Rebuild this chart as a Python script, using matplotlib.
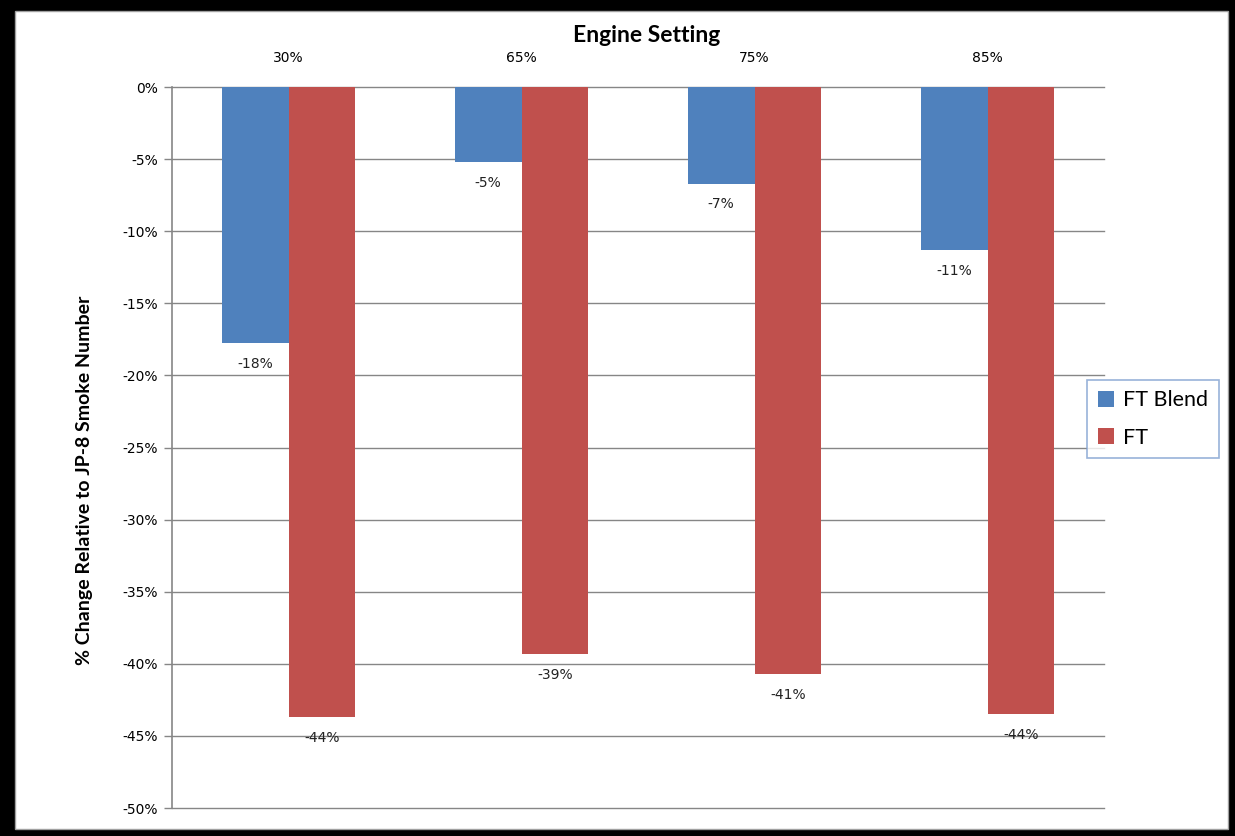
import matplotlib
matplotlib.use("Agg")
import matplotlib.pyplot as plt
from matplotlib.patches import Rectangle
import numpy as np

# Engine settings and % change in smoke number relative to JP-8
settings = ["30%", "65%", "75%", "85%"]
ft_blend = [-17.75, -5.2, -6.7, -11.3]
ft = [-43.7, -39.3, -40.7, -43.5]
y_ticks = [0, -5, -10, -15, -20, -25, -30, -35, -40, -45, -50]

BLUE = "#4F81BD"
RED = "#C0504D"
GRID = "#868686"

W, H = 1235, 836
fig = plt.figure(figsize=(W / 100, H / 100), dpi=100)
fig.patch.set_facecolor("black")
# white chart area with a thin grey inner border
fig.patches.append(Rectangle((15 / W, 1 - 829 / H), (1228 - 15) / W, (829 - 11) / H,
                             transform=fig.transFigure, facecolor="white",
                             edgecolor="#A0A0A0", linewidth=1.0, zorder=-5))

ax = fig.add_axes([172 / W, 1 - 808 / H, (1104 - 172) / W, (808 - 87) / H])
ax.set_facecolor("none")

x = np.arange(len(settings))
bw = 0.286
b1 = ax.bar(x - bw / 2, ft_blend, bw, color=BLUE, label="FT Blend", zorder=3)
b2 = ax.bar(x + bw / 2, ft, bw, color=RED, label="FT", zorder=3)

for bars, vals in ((b1, ft_blend), (b2, ft)):
    for rect, v in zip(bars, vals):
        ax.annotate(f"{v:.0f}%", (rect.get_x() + rect.get_width() / 2, v),
                    xytext=(0, -15), textcoords="offset points",
                    ha="center", va="center", fontsize=10,
                    family="DejaVu Sans", color="#222222", zorder=4)

ax.set_xlim(-0.5, len(settings) - 0.5)
ax.set_ylim(-50, 0)
ax.set_yticks(y_ticks)
ax.set_yticklabels([f"{t}%" for t in y_ticks], fontsize=10, family="DejaVu Sans")
ax.yaxis.grid(True, color=GRID, linewidth=1.0, zorder=1)
for gl in ax.get_ygridlines():
    gl.set_clip_on(False)
ax.tick_params(axis="y", length=6, color=GRID, width=1.0, pad=4)

ax.xaxis.tick_top()
ax.set_xticks(x)
ax.set_xticklabels(settings, fontsize=10, family="DejaVu Sans")
ax.tick_params(axis="x", length=0, pad=16)

for s in ("top", "right", "bottom"):
    ax.spines[s].set_visible(False)
ax.spines["left"].set_color(GRID)
ax.spines["left"].set_linewidth(1.2)

fig.text(647 / W, 1 - 35 / H, "Engine Setting", ha="center", va="center",
         fontsize=16.5, fontweight="bold", family="Lato")
fig.text(85 / W, 1 - 480 / H, "% Change Relative to JP-8 Smoke Number",
         ha="center", va="center", rotation=90, fontsize=14,
         fontweight="bold", family="Lato")

leg = fig.legend(handles=[b1, b2], loc="center",
                 bbox_to_anchor=(1153 / W, 1 - 419 / H), frameon=True,
                 fancybox=False, prop={"family": "Lato", "size": 15.5},
                 handlelength=0.75, handleheight=0.75, handletextpad=0.45,
                 labelspacing=0.8, borderpad=0.5, borderaxespad=0)
leg.get_frame().set_edgecolor("#7F9FCF")
leg.get_frame().set_linewidth(1.2)

fig.savefig("out.png", dpi=100, facecolor=fig.get_facecolor())
